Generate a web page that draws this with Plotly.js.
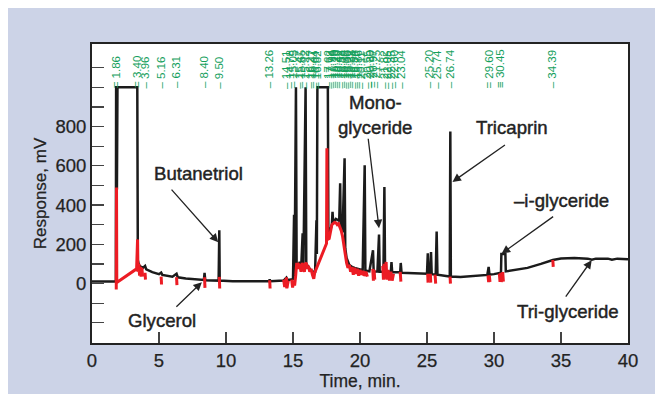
<!DOCTYPE html>
<html><head><meta charset="utf-8">
<script src="https://cdn.plot.ly/plotly-3.0.1.min.js"></script>
<style>html,body{margin:0;padding:0;background:#fff}#chart{width:655px;height:394px}
.annotation-text-g text.annotation-text{stroke:#232323;stroke-width:0.45px}
.annotation-text-g text.green{stroke:none}
.xtick text,.ytick text,.g-xtitle text,.g-ytitle text{stroke:#232323;stroke-width:0.25px}
</style>
</head><body><div id="chart"></div>
<script>
// ---- data ----
const blackTime = [0,1.78,1.80,1.84,1.86,1.90,3.38,3.40,3.42,3.5,3.6,3.8,3.96,4.05,4.5,5.0,5.16,5.25,6.0,6.31,6.4,7.0,7.8,8.35,8.40,8.45,9.45,9.50,9.53,10.5,13.2,13.26,13.32,14.3,14.51,14.6,15.0,15.08,15.12,15.22,15.27,15.4,15.5,15.62,15.72,15.78,15.94,15.99,16.1,16.3,16.5,16.65,16.75,16.78,16.82,17.60,17.64,17.75,17.9,17.95,18.0,18.2,18.35,18.45,18.52,18.56,18.7,18.85,18.9,19.0,19.2,19.4,19.6,19.8,20.0,20.2,20.35,20.4,20.7,20.97,21.02,21.3,21.42,21.47,21.75,21.82,21.87,22.3,22.35,22.4,23.0,23.04,23.1,24.0,25.0,25.06,25.12,25.25,25.3,25.35,25.65,25.72,25.78,26.3,26.7,26.74,26.78,27.5,28.5,29.5,29.6,29.66,30.0,30.52,30.55,30.85,30.88,31.5,32.5,33.5,34.39,35.0,36.0,37.0,37.3,37.6,38.5,38.8,39.2,40];
const blackResp = [10,10,1000,1000,480,1000,1000,150,120,95,88,80,90,72,58,48,56,44,35,50,32,26,20,18,55,17,15,272,15,12,12,20,12,15,30,18,22,350,35,1000,80,100,110,95,256,100,1000,100,90,70,60,60,323,150,1000,1000,240,270,300,365,310,330,325,320,511,290,260,638,180,130,95,85,80,75,70,68,603,66,62,170,60,62,250,60,60,492,62,60,110,58,58,105,55,52,50,154,50,50,160,48,46,265,45,40,36,775,36,34,38,44,85,45,48,55,150,150,62,68,80,100,120,128,130,127,122,127,127,122,127,124];

const redTime = [1.81,1.83,1.85,3.33,3.36,3.40,3.42,3.50,3.55,null,
  3.62,3.66,3.72,3.78,null, 3.96,3.99,null, 5.16,5.19,null, 6.31,6.34,null, 8.40,8.43,null, 9.50,9.53,null, 13.26,13.29,null, 14.51,14.54,null,
  14.3,14.38,14.46,14.55,14.65,null,14.9,14.97,15.05,15.12,15.2,15.28,15.36,15.45,15.52,15.6,15.68,15.76,15.85,15.92,16.0,16.08,16.15,16.25,16.35,16.45,16.55,16.62,17.50,17.53,17.57,17.7,17.8,17.9,18.0,18.1,18.2,18.3,18.4,18.5,18.6,18.7,18.8,18.9,19.0,19.1,19.2,19.3,19.4,19.5,19.6,19.7,19.8,19.9,20.0,20.1,20.2,20.3,20.45,20.55,null,
  20.95,21.0,21.05,21.1,null,21.7,21.75,21.8,21.85,21.95,22.0,22.1,22.2,22.3,22.4,22.5,null,23.0,23.05,null,
  25.05,25.08,null,25.25,25.28,null,25.6,25.65,null,26.72,26.75,null,29.55,29.6,29.65,29.7,null,30.4,30.45,30.5,30.55,30.65,30.7,null,34.39,34.42];
const redResp = [-30,490,5,75,225,225,60,100,40,null,
  85,35,80,35,null, 55,20,null, 35,-5,null, 32,-8,null, 32,-22,null, 34,-25,null, 17,-25,null, 32,-25,null,
  20,-18,22,-20,15,null,20,-20,15,-10,40,105,75,95,90,60,105,80,60,100,105,75,90,60,75,45,25,55,204,689,225,230,275,300,306,312,310,300,305,290,270,240,190,140,105,80,95,60,85,45,80,50,75,40,70,45,65,40,60,35,null,
  75,15,70,20,null,90,20,100,25,110,20,70,15,60,15,50,null,60,10,null,
  50,5,null,50,5,null,45,0,null,35,0,null,42,8,42,8,null,50,8,55,8,58,10,null,120,85];

const peakTimes = [1.86,3.40,3.96,5.16,6.31,8.40,9.50,13.26,14.51,14.78,15.05,15.47,15.65,15.92,16.27,16.47,16.64,16.82,17.62,17.78,17.94,18.10,18.26,18.42,18.58,18.74,18.90,19.06,19.22,19.38,19.54,19.70,19.86,20.11,20.55,20.80,20.97,21.25,21.82,22.05,22.35,22.60,23.04,25.20,25.74,26.74,29.60,30.45,34.39];
const peakMarks = ['=','=','–','–','–','–','–','–','–','–','–','–','–','–','–','–','–','–','–','–','–','–','–','–','–','–','–','–','–','–','–','–','–','–','–','–','=','–','–','–','–','–','–','–','–','–','=','≡','–'];

const xTickVals = [0,5,10,15,20,25,30,35,40];
const yTickVals = [-200,-100,0,100,200,300,400,500,600,700,800,900,1000,1100];
const yTickText = ['','','0','','200','','400','','600','','800','','',''];

const compoundText = ['Butanetriol','Glycerol','Mono-','glyceride','Tricaprin','–i-glyceride','Tri-glyceride'];

// ---- layout ----
const SANS = '"Liberation Sans", Arial, Helvetica, sans-serif';
const DARK = '#232323';
const textPos = [[7.95,563],[5.22,-187],[21.12,925],[21.12,797],[31.38,797],[35.0,425],[35.52,-140]];
const arrows = [ // head (time, mV), tail offset px
  [9.42,211,-48,-54],[8.2,7,-27,26],[21.42,282,-11,-91],[26.9,518,54,-38],[30.57,153,53,-38],[37.29,119,-27,38]
];

const annotations = [];
compoundText.forEach((s,i)=>annotations.push({
  x:textPos[i][0], y:textPos[i][1], xref:'x', yref:'y', text:s, showarrow:false,
  xanchor:'center', yanchor:'middle', font:{family:SANS, size:18.6, color:DARK}
}));
arrows.forEach(a=>annotations.push({
  x:a[0], y:a[1], xref:'x', yref:'y', ax:a[2], ay:a[3], text:'', showarrow:true,
  arrowhead:2, arrowsize:1.3, arrowwidth:1.3, arrowcolor:DARK, standoff:0
}));
peakTimes.forEach((t,i)=>annotations.push({
  x:t, xref:'x', y:0.848, yref:'paper', xanchor:'center', yanchor:'bottom', textangle:-90,
  showarrow:false, borderpad:0, text: peakMarks[i]+' '+t.toFixed(2),
  font:{family:SANS, size:11.5, color:'#14a05c'}
}));

const traces = [
  {x:blackTime, y:blackResp, type:'scatter', mode:'lines', line:{color:'#1b1b1b', width:2.5}, hoverinfo:'skip'},
  {x:redTime, y:redResp, type:'scatter', mode:'lines', line:{color:'#ec1c24', width:3}, connectgaps:false, hoverinfo:'skip'}
];

const layout = {
  width:655, height:394,
  margin:{l:92, r:27, t:44, b:51},
  paper_bgcolor:'#ffffff', plot_bgcolor:'#ffffff',
  showlegend:false,
  shapes:[
    {type:'rect', xref:'paper', yref:'paper', x0:-0.1567, x1:1.06, y0:-0.18, y1:1.1204, fillcolor:'#ccd3e7', line:{width:0}, layer:'below'},
    {type:'rect', xref:'paper', yref:'paper', x0:0, x1:1, y0:0, y1:1, fillcolor:'#ffffff', line:{width:0}, layer:'below'}
  ],
  xaxis:{range:[0,40], tickvals:xTickVals, ticks:'inside', ticklen:11, tickwidth:1.2, tickcolor:'#444',
    showline:true, mirror:true, linecolor:DARK, linewidth:2, showgrid:false, zeroline:false,
    tickfont:{family:SANS, size:18.5, color:DARK},
    title:{text:'Time, min.', font:{family:SANS, size:17.5, color:DARK}, standoff:3}},
  yaxis:{range:[-303,1221], tickvals:yTickVals, ticktext:yTickText, ticks:'inside', ticklen:12, tickwidth:1.2, tickcolor:'#444',
    showline:true, mirror:true, linecolor:DARK, linewidth:2, showgrid:false, zeroline:false,
    tickfont:{family:SANS, size:18.5, color:DARK},
    title:{text:'Response, mV', font:{family:SANS, size:17, color:DARK}, standoff:4}},
  annotations:annotations
};

Plotly.newPlot('chart', traces, layout, {staticPlot:true, displayModeBar:false}).then(()=>{
  // green peak labels should not get the bold stroke
  document.querySelectorAll('.annotation-text').forEach(el=>{
    if ((el.getAttribute('style')||'').indexOf('rgb(20, 160, 92)')>=0) el.classList.add('green');
  });
});
</script>
</body></html>
